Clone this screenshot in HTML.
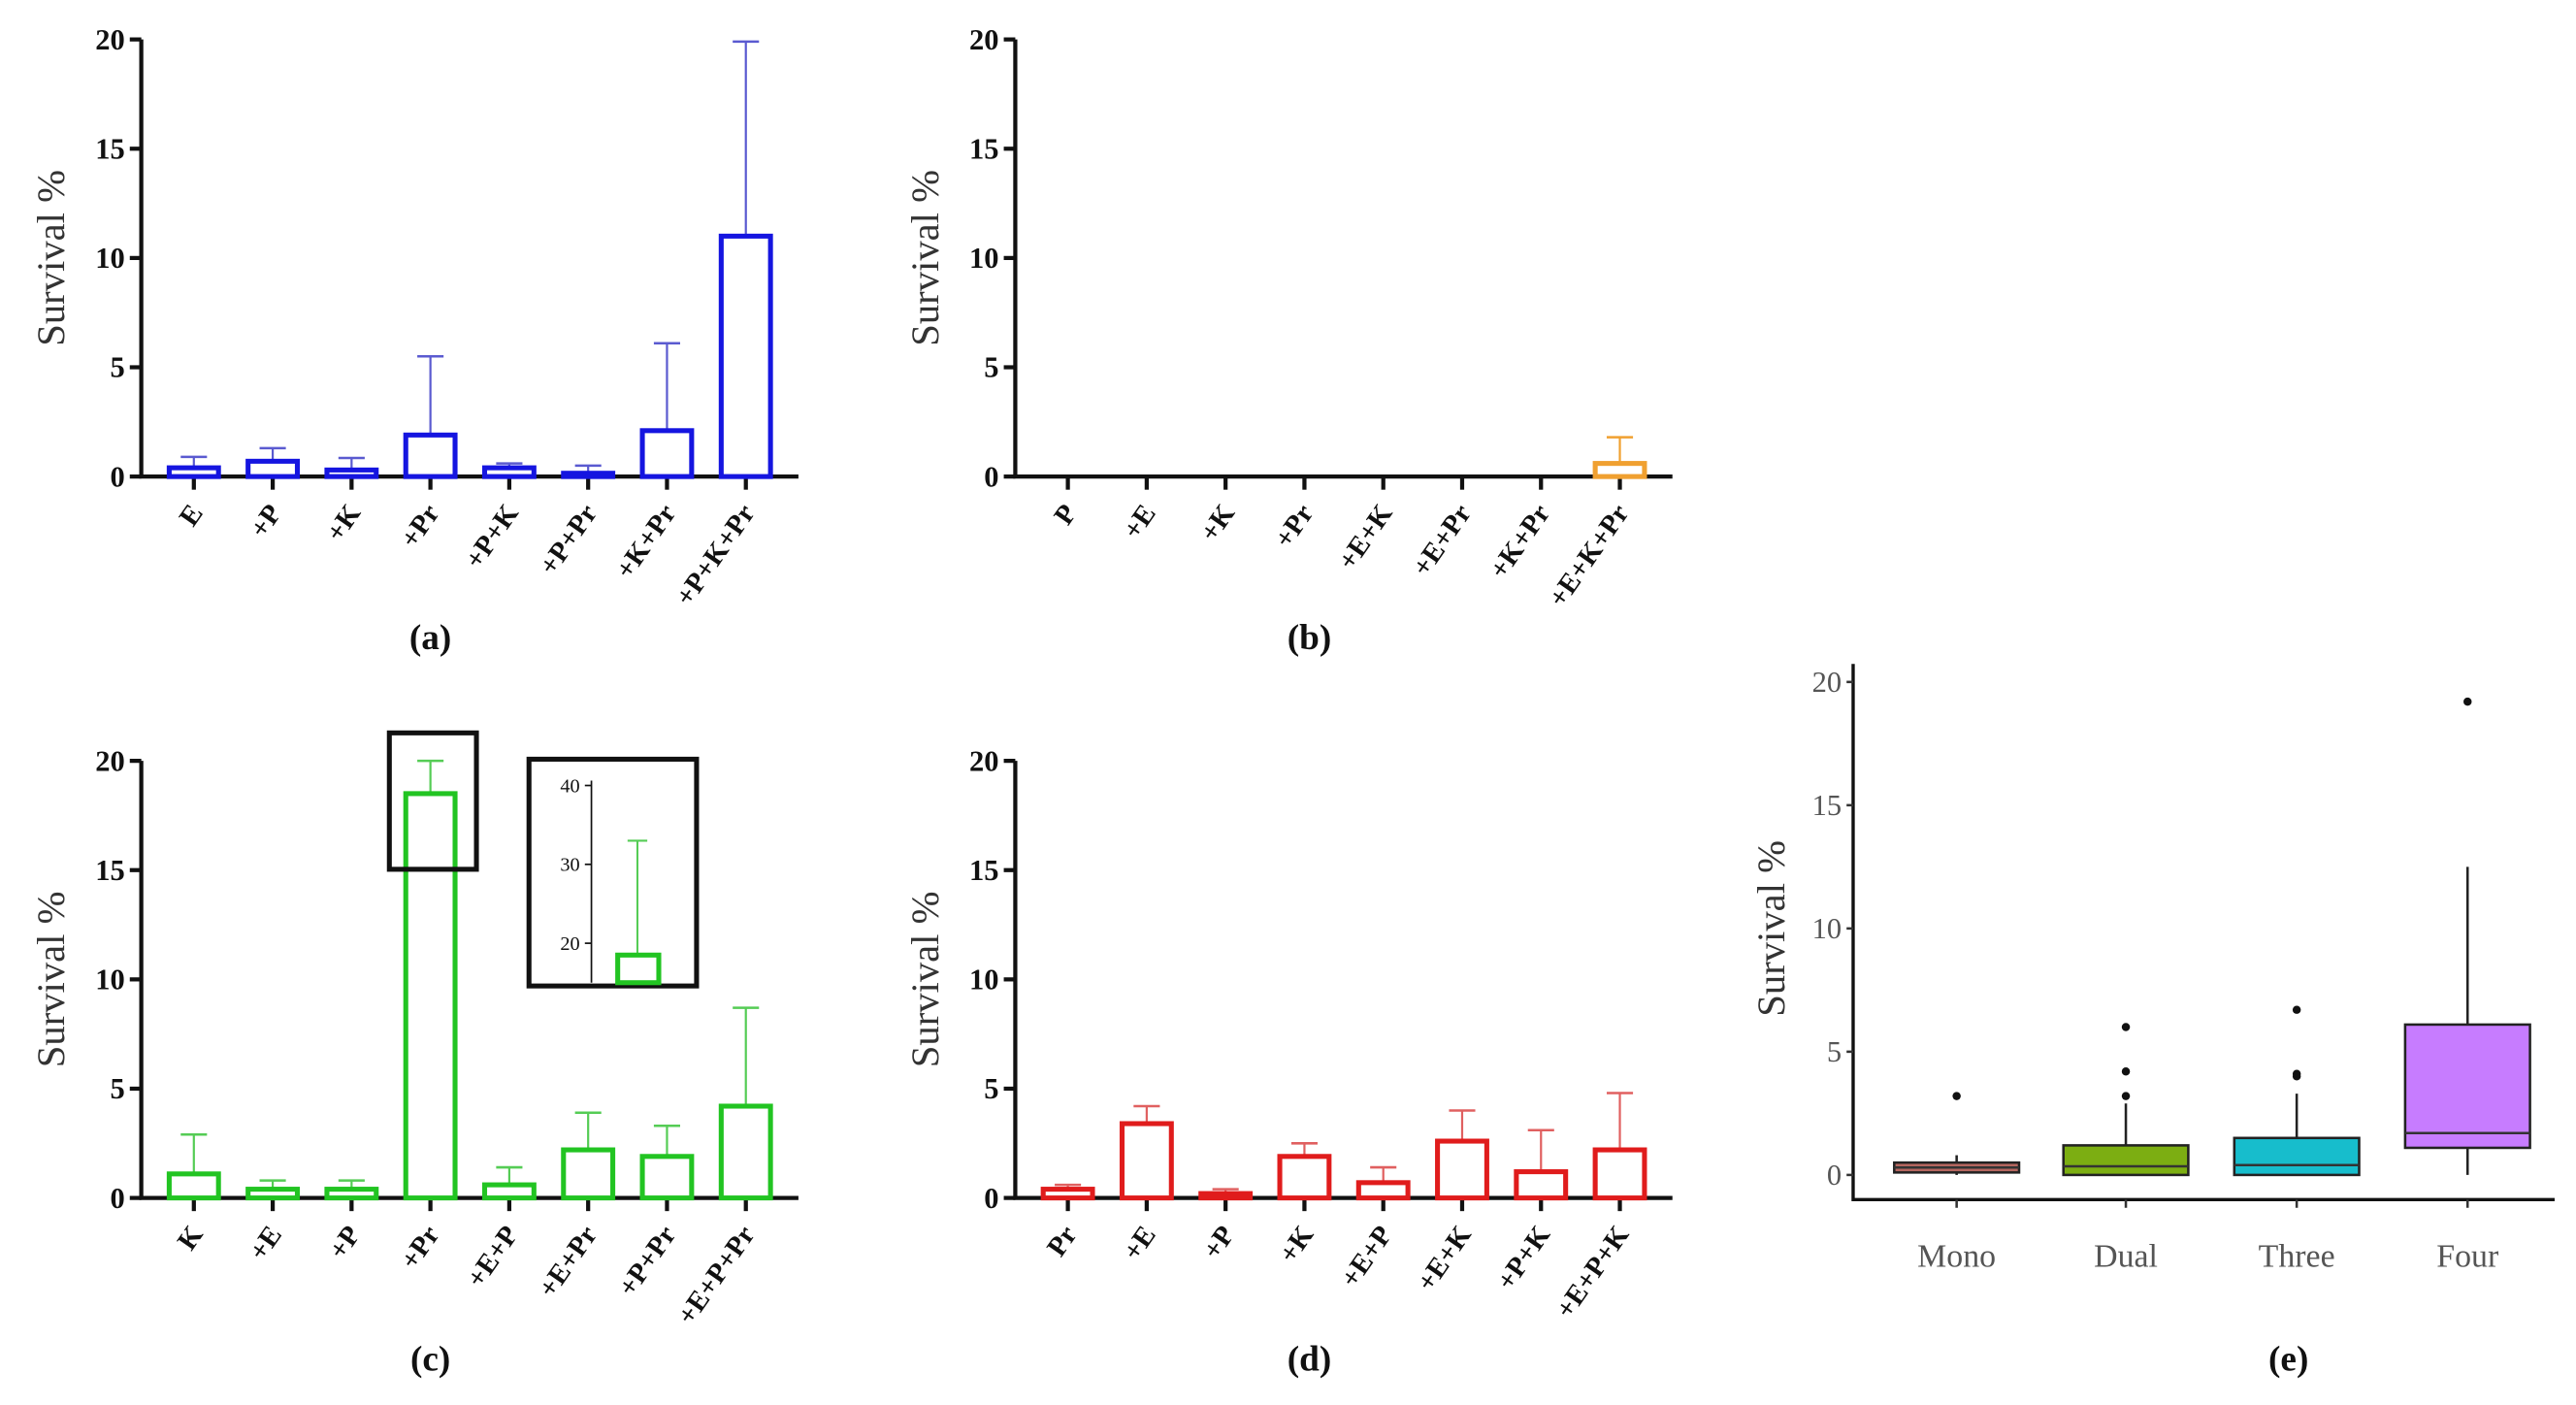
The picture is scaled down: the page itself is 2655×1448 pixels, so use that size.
<!DOCTYPE html>
<html><head><meta charset="utf-8"><style>
html,body{margin:0;padding:0;background:#fff;}
svg{display:block;}
text{font-family:"Liberation Serif",serif;}
</style></head><body>
<svg id="fig" width="2655" height="1448" viewBox="0 0 1568 855" preserveAspectRatio="none" xmlns="http://www.w3.org/2000/svg"></svg>
<script>
const catsA=["E","+P","+K","+Pr","+P+K","+P+Pr","+K+Pr","+P+K+Pr"];
const valsA=[0.4,0.7,0.3,1.9,0.4,0.15,2.1,11.0];
const errA=[0.9,1.3,0.85,5.5,0.6,0.5,6.1,19.9];
const catsB=["P","+E","+K","+Pr","+E+K","+E+Pr","+K+Pr","+E+K+Pr"];
const valsB=[0,0,0,0,0,0,0,0.6];
const errB=[0,0,0,0,0,0,0,1.8];
const catsC=["K","+E","+P","+Pr","+E+P","+E+Pr","+P+Pr","+E+P+Pr"];
const valsC=[1.1,0.4,0.4,18.5,0.6,2.2,1.9,4.2];
const errC=[2.9,0.8,0.8,20,1.4,3.9,3.3,8.7];
const catsD=["Pr","+E","+P","+K","+E+P","+E+K","+P+K","+E+P+K"];
const valsD=[0.4,3.4,0.2,1.9,0.7,2.6,1.2,2.2];
const errD=[0.6,4.2,0.4,2.5,1.4,4.0,3.1,4.8];
const yTicks=[0,5,10,15,20];
const insetTicks=[20,30,40];
const insetVal=18.5, insetErr=33;
const boxCats=["Mono","Dual","Three","Four"];
const boxQ1=[0.1,0,0,1.1];
const boxMed=[0.3,0.35,0.4,1.7];
const boxQ3=[0.5,1.2,1.5,6.1];
const boxLo=[0,0,0,0];
const boxHi=[0.8,2.9,3.3,12.5];
const boxOut=[[3.2],[3.2,4.2,6.0],[4.0,4.1,6.7],[19.2]];
const boxTicks=[0,5,10,15,20];

const NS="http://www.w3.org/2000/svg";
const svg=document.getElementById('fig');
function el(tag,attrs,parent,txt){const e=document.createElementNS(NS,tag);for(const k in attrs)e.setAttribute(k,attrs[k]);if(txt!==undefined)e.textContent=txt;(parent||svg).appendChild(e);return e;}

function barPanel(name,ox,y0,ytop,cats,vals,errs,color,errColor,label,labelX){
  const g=el('g',{});
  
  
  const y=v=>y0-(v/20)*(y0-ytop);
  const x0=ox+32, step=48, bw=30;
  const xc=i=>x0+i*step;
  const ax=el('path',{d:`M${ox},${ytop} L${ox},${y0} L${ox+400},${y0}`,stroke:'#111','stroke-width':2.5,fill:'none'},g);
  
  yTicks.forEach(t=>{
    el('line',{x1:ox-7,x2:ox,y1:y(t),y2:y(t),stroke:'#111','stroke-width':2.5},g);
    const tl=el('text',{x:ox-10,y:y(t)+6,'text-anchor':'end','font-size':18,'font-weight':'bold',fill:'#111'},g,t);
    
  });
  const yt=el('text',{transform:`translate(${ox-47},${(ytop+y0)/2}) rotate(-90)`,'text-anchor':'middle','font-size':24,fill:'#333'},g,'Survival %');
  
  cats.forEach((c,i)=>{
    const cx=xc(i);
    el('line',{x1:cx,x2:cx,y1:y0,y2:y0+8,stroke:'#111','stroke-width':2.5},g);
    if(errs[i]>vals[i]){
      el('line',{x1:cx,x2:cx,y1:y(vals[i]),y2:y(errs[i]),stroke:errColor,'stroke-width':1.3},g);
      el('line',{x1:cx-8,x2:cx+8,y1:y(errs[i]),y2:y(errs[i]),stroke:errColor,'stroke-width':1.5},g);
    }
    if(vals[i]>0){
      const h=Math.max(y0-y(vals[i]),2);
      const r=el('rect',{x:cx-bw/2,y:y0-h,width:bw,height:h,fill:'#fff',stroke:color,'stroke-width':3},g);
      
    }
    const tl=el('text',{transform:`translate(${cx+6},${y0+22}) rotate(-55)`,'text-anchor':'end','font-size':17,'font-weight':'bold',fill:'#111'},g,c);
    
  });
  const pl=el('text',{x:labelX,y:y0+105,'text-anchor':'middle','font-size':22,'font-weight':'bold',fill:'#111'},g,label);
  
  return {g,y,xc};
}

barPanel('panel-a',86,290,24,catsA,valsA,errA,'#1515e0','#5a5ad0','(a)',262);
barPanel('panel-b',618,290,24,catsB,valsB,errB,'#f0a030','#f0a030','(b)',797);
barPanel('panel-c',86,729,463,catsC,valsC,errC,'#22c422','#55cc55','(c)',262);
barPanel('panel-d',618,729,463,catsD,valsD,errD,'#e01c1c','#e06060','(d)',797);

const hb=el('rect',{x:237,y:446,width:53,height:83,fill:'none',stroke:'#111','stroke-width':3});

const inset=el('g',{});


el('rect',{x:322,y:462,width:102,height:138,fill:'#fff',stroke:'#111','stroke-width':3},inset);
const iy=v=>598-(v-15)/(40-15)*(598-478);
el('line',{x1:360,x2:360,y1:iy(40)-3,y2:598,stroke:'#111','stroke-width':1},inset);
insetTicks.forEach(t=>{
  el('line',{x1:356,x2:360,y1:iy(t),y2:iy(t),stroke:'#111','stroke-width':1},inset);
  el('text',{x:353,y:iy(t)+4,'text-anchor':'end','font-size':12,fill:'#111'},inset,t);
});
el('line',{x1:388,x2:388,y1:iy(insetVal),y2:iy(insetErr),stroke:'#55cc55','stroke-width':1.2},inset);
el('line',{x1:382,x2:394,y1:iy(insetErr),y2:iy(insetErr),stroke:'#55cc55','stroke-width':1.2},inset);
el('rect',{x:376,y:iy(insetVal),width:25,height:598-iy(insetVal),fill:'#fff',stroke:'#22c422','stroke-width':3},inset);

const ge=el('g',{});


const ey=v=>715-(v/20)*(715-415);
const exs=[1191,1294,1398,1502];
const boxColors=['#b5665f','#7cae12','#17bdcc','#c77cff'];
el('path',{d:'M1128,404 L1128,730 L1555,730',stroke:'#111','stroke-width':2,fill:'none'},ge);
boxTicks.forEach(t=>{
  el('line',{x1:1124,x2:1128,y1:ey(t),y2:ey(t),stroke:'#333','stroke-width':1.5},ge);
  const tl=el('text',{x:1121,y:ey(t)+6,'text-anchor':'end','font-size':18,fill:'#555'},ge,t);
  
});
const eyt=el('text',{transform:`translate(1086,565) rotate(-90)`,'text-anchor':'middle','font-size':24,fill:'#333'},ge,'Survival %');

boxCats.forEach((c,i)=>{
  const cx=exs[i], hw=38;
  el('line',{x1:cx,x2:cx,y1:730,y2:735,stroke:'#333','stroke-width':1.5},ge);
  el('line',{x1:cx,x2:cx,y1:ey(boxLo[i]),y2:ey(boxHi[i]),stroke:'#222','stroke-width':1.5},ge);
  const b=el('rect',{x:cx-hw,y:ey(boxQ3[i]),width:2*hw,height:ey(boxQ1[i])-ey(boxQ3[i]),fill:boxColors[i],stroke:'#222','stroke-width':1.5},ge);
  
  el('line',{x1:cx-hw,x2:cx+hw,y1:ey(boxMed[i]),y2:ey(boxMed[i]),stroke:'#333','stroke-width':1.5},ge);
  boxOut[i].forEach(o=>{
    const d=el('circle',{cx:cx,cy:ey(o),r:2.5,fill:'#111'},ge);
    
  });
  const tl=el('text',{x:cx,y:771,'text-anchor':'middle','font-size':20,fill:'#555'},ge,c);
  
});
const pe=el('text',{x:1393,y:834,'text-anchor':'middle','font-size':22,'font-weight':'bold',fill:'#111'},ge,'(e)');

</script>
</body></html>
